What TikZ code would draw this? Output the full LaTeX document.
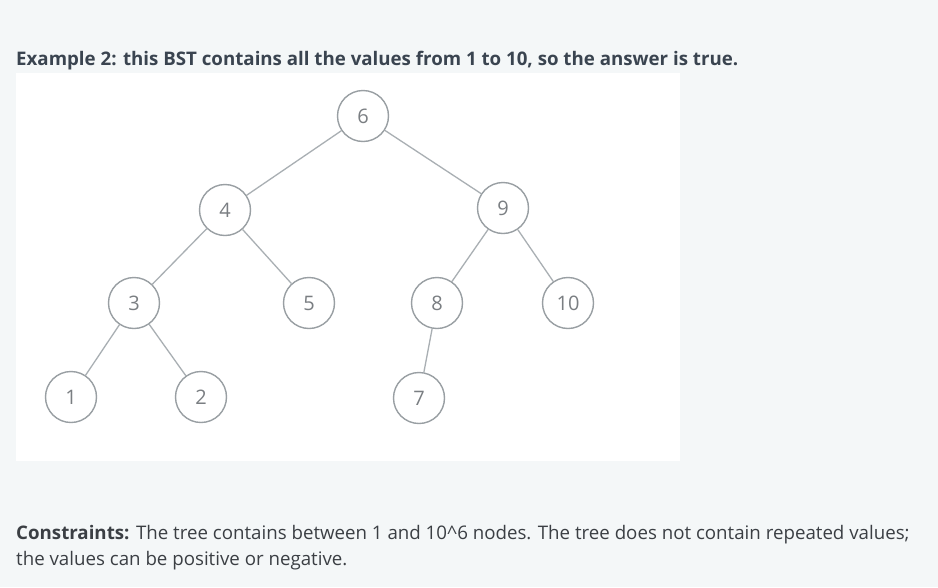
\documentclass[tikz,border=0pt]{standalone}
\usepackage{fontspec}
\setmainfont{Open Sans}
\definecolor{bgc}{HTML}{F4F7F8}
\definecolor{titlec}{HTML}{3A4450}
\definecolor{txtc}{HTML}{3B3F44}
\definecolor{circc}{HTML}{999FA3}
\definecolor{numc}{HTML}{7A7E82}
\definecolor{edgec}{HTML}{A9AFB3}
\begin{document}
\begin{tikzpicture}[x=1pt,y=-1pt,
  tn/.style={circle,draw=circc,line width=1.4pt,fill=white,minimum size=51pt,inner sep=0pt,font=\fontsize{20}{22}\selectfont,text=numc},
  ed/.style={draw=edgec,line width=1.3pt}]
\fill[bgc] (0,0) rectangle (938,587);
\useasboundingbox (0,0) rectangle (938,587);
\fill[white] (16,73) rectangle (680,461);
\node[anchor=base west,inner sep=0pt,font=\fontsize{18.7}{22}\selectfont\bfseries,text=titlec] (title) at (16,65) {Example 2: this BST contains all the values from 1 to 10, so the answer is true.};
\node[tn] (n6) at (363,116) {6};
\node[tn] (n4) at (225,210) {4};
\node[tn] (n9) at (503,208) {9};
\node[tn] (n3) at (134,303) {3};
\node[tn] (n5) at (309,303) {5};
\node[tn] (n8) at (437,303) {8};
\node[tn] (n10) at (568,303) {10};
\node[tn] (n1) at (71,397) {1};
\node[tn] (n2) at (201,397) {2};
\node[tn] (n7) at (419,398) {7};
\draw[ed] (n6) -- (n4);
\draw[ed] (n6) -- (n9);
\draw[ed] (n4) -- (n3);
\draw[ed] (n4) -- (n5);
\draw[ed] (n9) -- (n8);
\draw[ed] (n9) -- (n10);
\draw[ed] (n3) -- (n1);
\draw[ed] (n3) -- (n2);
\draw[ed] (n8) -- (n7);
\node[anchor=base west,inner sep=0pt,font=\fontsize{18.7}{22}\selectfont,text=txtc] (c1) at (16,539) {\textbf{Constraints:} The tree contains between 1 and 10\^{}6 nodes. The tree does not contain repeated values;};
\node[anchor=base west,inner sep=0pt,font=\fontsize{18.7}{22}\selectfont,text=txtc] (c2) at (16,565) {the values can be positive or negative.};
\end{tikzpicture}
\end{document}
